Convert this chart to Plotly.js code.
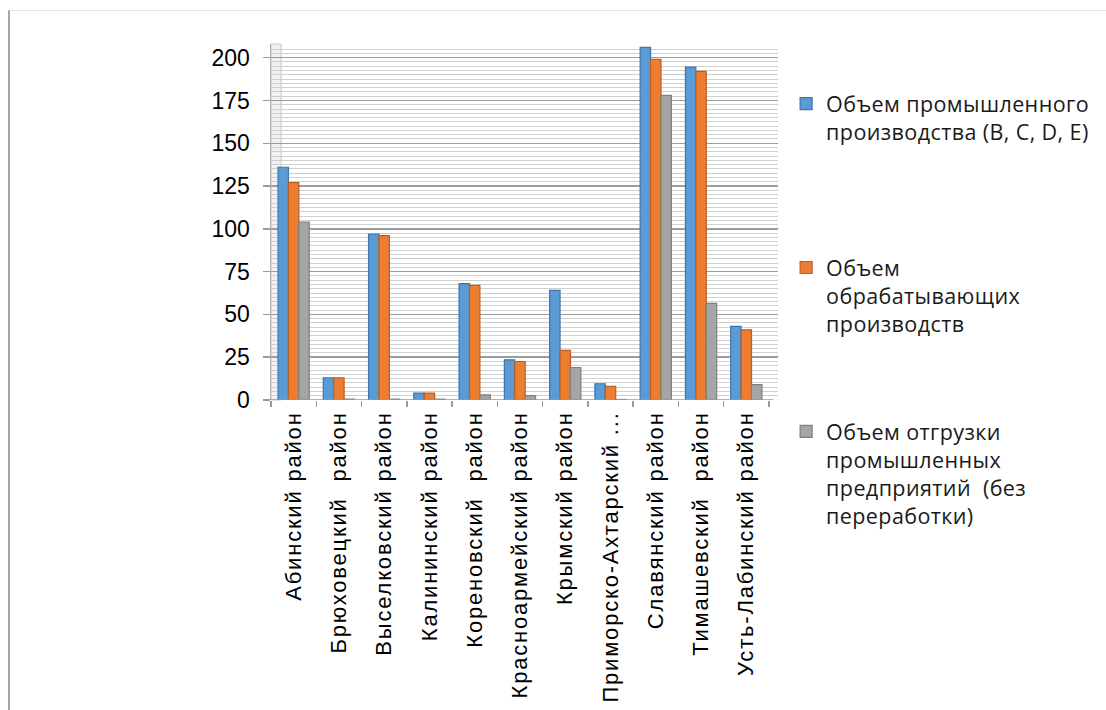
<!DOCTYPE html>
<html>
<head>
<meta charset="utf-8">
<script src="https://cdn.plot.ly/plotly-3.0.1.min.js"></script>
<style>
  html, body { margin: 0; padding: 0; background: #fff; }
  #chart { width: 1106px; height: 710px; }
  #frame { position: absolute; left: 8px; top: 10px; width: 1098px; height: 700px;
           border-left: 2px solid #a6a6a6; border-top: 1px solid #e3e3e3; pointer-events: none; }
  .legendtext { letter-spacing: 0.4px; }
  .xtick text { letter-spacing: 1.8px; }
</style>
</head>
<body>
<div id="chart"></div>
<div id="frame"></div>
<script>
const categories = [
  "Абинский район", "Брюховецкий  район", "Выселковский район", "Калининский район",
  "Кореновский  район", "Красноармейский район", "Крымский район", "Приморско-Ахтарский ...",
  "Славянский район", "Тимашевский  район", "Усть-Лабинский район"
];
const industrialOutput = [136, 13, 97, 4, 68, 23.5, 64, 9.5, 206, 194.5, 43];
const manufacturingOutput = [127, 13, 96, 4, 67, 22.5, 29, 8, 199, 192, 41];
const shipmentNoProcessing = [104, 0.5, 0.5, 0.5, 3, 2.5, 19, 0.3, 178, 56.5, 9];

const seriesNames = [
  "Объем промышленного<br>производства (B, C, D, E)<br> ",
  "Объем<br>обрабатывающих<br>производств",
  "Объем отгрузки<br>промышленных<br>предприятий  (без<br>переработки)"
];
const colors = ["#5B9BD5", "#ED7D31", "#A5A5A5"];
const edgeColors = ["#3E75A8", "#B95F22", "#7F7F7F"];
const values = [industrialOutput, manufacturingOutput, shipmentNoProcessing];

const traces = values.map((v, i) => ({
  type: "bar",
  name: seriesNames[i],
  x: categories,
  y: v,
  legendgroup: "g" + i,
  marker: { color: colors[i], line: { color: edgeColors[i], width: 1.2 } },
  hoverinfo: "x+y"
}));

const layout = {
  width: 1106, height: 710,
  margin: { l: 271, r: 328, t: 44, b: 310 },
  paper_bgcolor: "#ffffff",
  plot_bgcolor: "#ffffff",
  barmode: "group",
  bargap: 0.31,
  bargroupgap: 0,
  showlegend: true,
  legend: {
    x: 1.016, xanchor: "left", y: 0.89, yanchor: "top",
    valign: "top",
    tracegroupgap: 77,
    maxheight: 660,
    borderwidth: 0,
    font: { family: "Open Sans, Liberation Sans, sans-serif", size: 21.5, color: "#1a1a1a" },
    itemwidth: 30
  },
  xaxis: {
    type: "category",
    range: [-0.5, 10.7],
    tickangle: -90,
    tickson: "boundaries",
    ticks: "outside", ticklen: 6, tickcolor: "#9a9a9a", tickwidth: 1.5,
    showline: false,
    showgrid: false,
    ticklabelstandoff: 6,
    tickfont: { family: "Liberation Sans, Arial, sans-serif", size: 22, color: "#000" }
  },
  yaxis: {
    range: [0, 208],
    tickvals: [0, 25, 50, 75, 100, 125, 150, 175, 200],
    ticks: "outside", ticklen: 7, tickcolor: "#9a9a9a", tickwidth: 1.5,
    showline: true, linecolor: "#b0b0b0", linewidth: 1.5,
    showgrid: true, gridcolor: "#9c9c9c", gridwidth: 1.5,
    zeroline: false,
    minor: { dtick: 2.5, showgrid: true, gridcolor: "#d0d0d0", gridwidth: 1 },
    ticklabelstandoff: 8,
    tickfont: { family: "Liberation Sans, Arial, sans-serif", size: 23, color: "#000" }
  },
  shapes: [
    { type: "rect", xref: "paper", yref: "paper", x0: 0, x1: 0.02, y0: 0, y1: 1,
      fillcolor: "#f1f1f1", line: { color: "#c8c8c8", width: 1 }, layer: "below" },
    { type: "line", xref: "x", yref: "y", x0: -0.5, x1: 10.6, y0: 0, y1: 0,
      line: { color: "#9a9a9a", width: 1.5 }, layer: "above" }
  ]
};

Plotly.newPlot("chart", traces, layout, { displayModeBar: false, staticPlot: true });
</script>
</body>
</html>
